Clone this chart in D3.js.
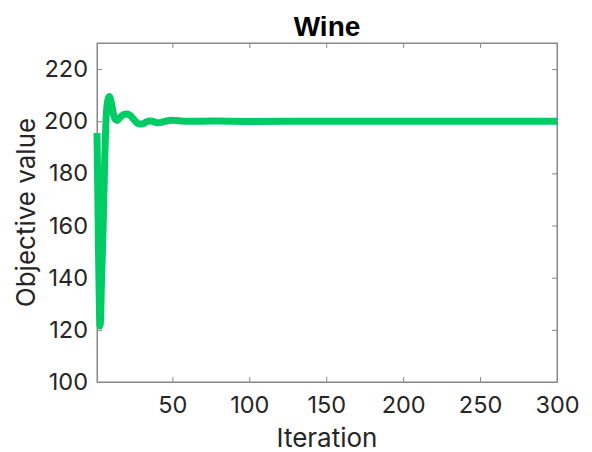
<!DOCTYPE html>
<html>
<head>
<meta charset="utf-8">
<script src="https://d3js.org/d3.v7.min.js"></script>
<style>
  body { margin: 0; background: #fff; }
  svg { display: block; font-family: Inter, "Liberation Sans", Arial, sans-serif; }
</style>
</head>
<body>
<div id="chart"></div>
<script>
// objective value per iteration
const iterations = [1, 2, 3, 4, 5, 6, 7, 8, 9, 10, 11, 12, 13, 14, 15, 17, 19, 21, 23, 25, 27, 29, 31, 33, 35, 37, 39, 41, 43, 46, 49, 52, 56, 60, 70, 80, 100, 150, 200, 250, 300];
const objective = [195.5, 150, 121.5, 140, 160, 185, 202, 208, 209.5, 208, 205, 202, 200.6, 200.3, 200.8, 202, 202.7, 202.8, 202, 200.6, 199.4, 198.9, 199.1, 199.7, 200.1, 200, 199.6, 199.4, 199.6, 200.1, 200.4, 200.3, 200.1, 200, 200, 200.1, 199.9, 200, 200, 200, 200];
const xTicks = [50, 100, 150, 200, 250, 300];
const yTicks = [100, 120, 140, 160, 180, 200, 220];

const width = 592, height = 452;
const margin = { top: 43, right: 35, bottom: 70, left: 97 };

const svg = d3.select("#chart")
    .append("svg")
    .attr("width", width)
    .attr("height", height);

const x = d3.scaleLinear().domain([1, 300]).range([margin.left, width - margin.right]);
const y = d3.scaleLinear().domain([100, 230]).range([height - margin.bottom, margin.top]);

const axisColor = "#888";
const textColor = "#262626";

// box
svg.append("rect")
    .attr("x", x(1)).attr("y", y(230))
    .attr("width", x(300) - x(1)).attr("height", y(100) - y(230))
    .attr("fill", "none").attr("stroke", axisColor).attr("stroke-width", 1);

// axes with inward ticks, mirrored on top / right
svg.append("g")
    .attr("transform", `translate(0,${y(100)})`)
    .call(d3.axisBottom(x).tickValues(xTicks).tickSizeInner(-5).tickSizeOuter(0).tickPadding(14));
svg.append("g")
    .attr("transform", `translate(0,${y(230)})`)
    .call(d3.axisTop(x).tickValues(xTicks).tickSizeInner(-5).tickSizeOuter(0).tickFormat(""));

svg.append("g")
    .attr("transform", `translate(${x(1)},0)`)
    .call(d3.axisLeft(y).tickValues(yTicks).tickSizeInner(-5).tickSizeOuter(0).tickPadding(9));
svg.append("g")
    .attr("transform", `translate(${x(300)},0)`)
    .call(d3.axisRight(y).tickValues(yTicks).tickSizeInner(-5).tickSizeOuter(0).tickFormat(""));

svg.selectAll(".domain").attr("stroke", axisColor);
svg.selectAll(".tick line").attr("stroke", axisColor);
svg.selectAll(".tick text")
    .attr("fill", textColor)
    .attr("font-size", "23.5px")
    .attr("font-family", 'Inter, "Liberation Sans", Arial, sans-serif');

// the curve
const line = d3.line()
    .x((d, i) => x(iterations[i]))
    .y(d => y(d))
    .curve(d3.curveMonotoneX);

svg.append("path")
    .datum(objective)
    .attr("d", line)
    .attr("fill", "none")
    .attr("stroke", "#00cc66")
    .attr("stroke-width", 7)
    .attr("stroke-linejoin", "round");

// labels
svg.append("text")
    .attr("x", (x(1) + x(300)) / 2)
    .attr("y", 36)
    .attr("text-anchor", "middle")
    .attr("font-family", '"Liberation Sans", Arial, sans-serif')
    .attr("font-size", "28px")
    .attr("font-weight", "bold")
    .attr("fill", "#000")
    .text("Wine");

svg.append("text")
    .attr("x", (x(1) + x(300)) / 2)
    .attr("y", 447)
    .attr("text-anchor", "middle")
    .attr("font-size", "26px")
    .attr("fill", textColor)
    .text("Iteration");

svg.append("text")
    .attr("transform", `translate(35,${(y(100) + y(230)) / 2}) rotate(-90)`)
    .attr("text-anchor", "middle")
    .attr("font-size", "26px")
    .attr("fill", textColor)
    .text("Objective value");
</script>
</body>
</html>
